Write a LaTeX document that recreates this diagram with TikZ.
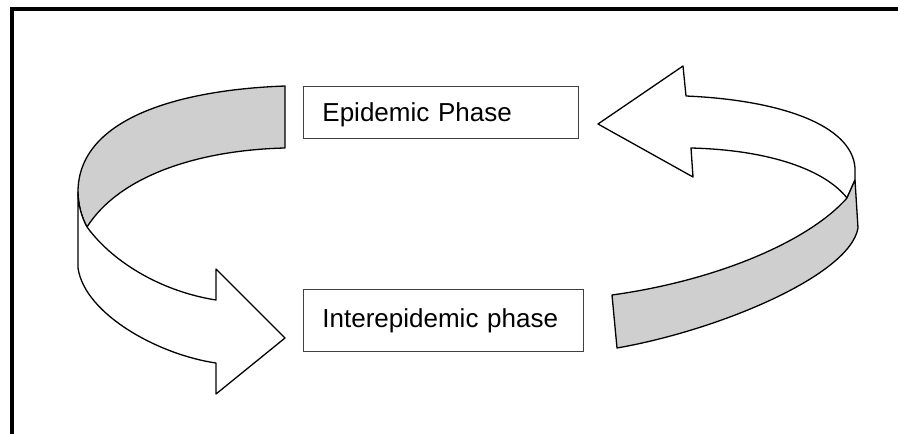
\documentclass[tikz,border=0pt]{standalone}
\usepackage{fontspec}
\setmainfont{Liberation Sans}

\begin{document}
\begin{tikzpicture}[x=1pt,y=-1pt,
  phase/.style={draw=black!75,line width=0.9pt,anchor=north west,inner xsep=19pt,inner ysep=0pt,align=left,font=\fontsize{26}{30}\selectfont},
  front/.style={draw,line width=1.3pt,line join=round,fill=white},
  back/.style={front,fill=black!19}]
\useasboundingbox (0,0) rectangle (898,434);
\draw[line width=4pt] (12,434) -- (12,9) -- (898,9);

% left ribbon, inside (grey) then outside with the head
\draw[back] (285,86) .. controls (175,90) and (78,120) .. (78,192)
  .. controls (78,205) and (82,218) .. (87,227)
  .. controls (120,175) and (200,150) .. (285,148) -- cycle;
\draw[front] (78,192) -- (78,268) .. controls (85,315) and (160,355) .. (216,363)
  -- (216,394) -- (285,338) -- (216,269) -- (216,300)
  .. controls (165,292) and (115,265) .. (87,227)
  .. controls (82,218) and (78,205) .. cycle;

% right ribbon
\draw[front] (598,124) -- (683,66) -- (686,96) .. controls (780,100) and (852,125) .. (855,168)
  -- (855,180) -- (847,198) .. controls (825,170) and (770,150) .. (691,148)
  -- (693,177) -- cycle;
\draw[back] (847,198) -- (855,180) -- (858,228) .. controls (850,275) and (720,330) .. (617,348)
  -- (612,295) .. controls (720,280) and (810,240) .. cycle;

\node[phase,text width=237pt,minimum height=52pt,text depth=0pt] (epi) at (303,86) {Epidemic Phase};
\node[phase,text width=242pt,minimum height=62pt] (inter) at (303,289) {Interepidemic phase};
\end{tikzpicture}
\end{document}
